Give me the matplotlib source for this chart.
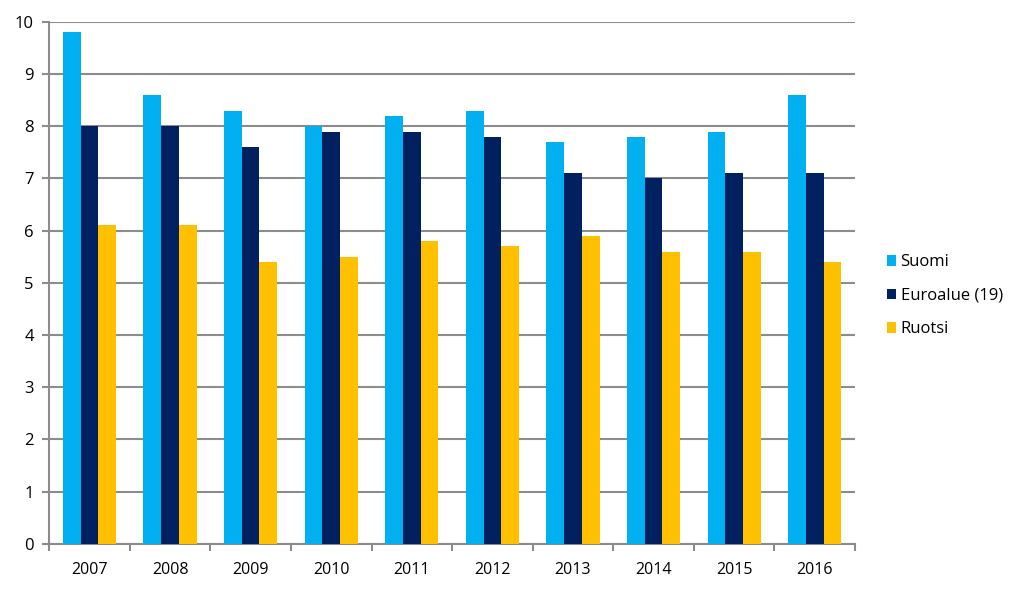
import numpy as np
import matplotlib.pyplot as plt

years = ['2007', '2008', '2009', '2010', '2011', '2012', '2013', '2014', '2015', '2016']
suomi = [9.8, 8.6, 8.3, 8.0, 8.2, 8.3, 7.7, 7.8, 7.9, 8.6]
euroalue = [8.0, 8.0, 7.6, 7.9, 7.9, 7.8, 7.1, 7.0, 7.1, 7.1]
ruotsi = [6.1, 6.1, 5.4, 5.5, 5.8, 5.7, 5.9, 5.6, 5.6, 5.4]

plt.rcParams['font.family'] = ['Open Sans', 'DejaVu Sans']

fig = plt.figure(figsize=(10.24, 5.93), dpi=100)
ax = fig.add_axes([0.048, 0.083, 0.787, 0.88])

x = np.arange(len(years))
w = 0.22
ax.bar(x - w, suomi, w, color='#00B0F0', label='Suomi', zorder=3)
ax.bar(x, euroalue, w, color='#002060', label='Euroalue (19)', zorder=3)
ax.bar(x + w, ruotsi, w, color='#FFC000', label='Ruotsi', zorder=3)

ax.set_ylim(0, 10)
ax.set_xlim(-0.5, len(years) - 0.5)
ax.set_yticks(range(0, 11))
ax.yaxis.grid(True, color='#8c8c8c', linewidth=1.5, zorder=0)
ax.set_axisbelow(True)

ax.set_xticks(x)
ax.set_xticklabels(years)
ax.set_xticks(np.arange(-0.5, len(years)), minor=True)
ax.tick_params(axis='x', which='major', length=0, pad=13, labelsize=11.5)
ax.tick_params(axis='x', which='minor', length=5, color='#8c8c8c', width=1.5)
ax.tick_params(axis='y', length=5, color='#8c8c8c', width=1.5, labelsize=12, pad=6)

for s in ['top', 'right']:
    ax.spines[s].set_visible(False)
for s in ['left', 'bottom']:
    ax.spines[s].set_color('#8c8c8c')
    ax.spines[s].set_linewidth(1.5)

ax.legend(loc='center left', bbox_to_anchor=(1.04, 0.475), frameon=False,
          fontsize=12, handlelength=0.55, handleheight=0.55, handletextpad=0.25,
          labelspacing=1.05, borderaxespad=0, borderpad=0)

plt.savefig('out.png', dpi=100)
